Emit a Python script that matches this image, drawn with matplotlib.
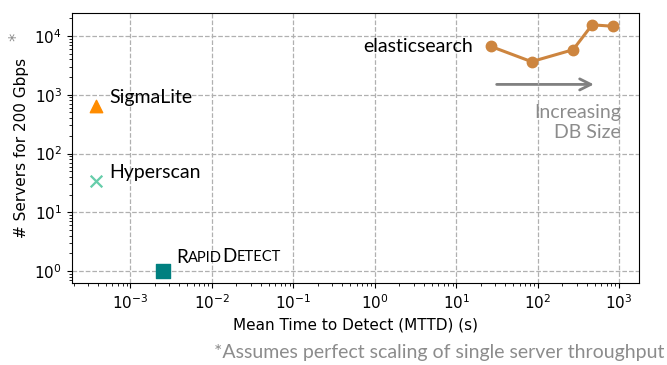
import matplotlib
matplotlib.use('Agg')
import matplotlib.pyplot as plt
from matplotlib.patches import FancyArrowPatch

# ---------- data ----------
es_mttd = [26.7, 84, 272, 466, 843]
es_servers = [6640, 3660, 5840, 15500, 14650]

sigmalite_mttd, sigmalite_servers = 3.8e-4, 650
hyperscan_mttd, hyperscan_servers = 3.8e-4, 34
rapid_mttd, rapid_servers = 2.5e-3, 1

xlim = (1.9e-4, 1.77e3)
ylim = (0.62, 2.45e4)

label_font = ['Lato', 'DejaVu Sans']
gray = '#8c8c8c'

fig = plt.figure(figsize=(6.67, 3.65), dpi=100)
ax = fig.add_axes([0.1075, 0.224, 0.851, 0.74])

ax.plot(es_mttd, es_servers, color='#cd853f', lw=2.2, marker='o', ms=7.5, zorder=3)
ax.scatter([sigmalite_mttd], [sigmalite_servers], marker='^', s=80, color='#ff8c00', zorder=3)
ax.scatter([hyperscan_mttd], [hyperscan_servers], marker='x', s=70, color='#66cdaa', lw=1.6, zorder=3)
ax.scatter([rapid_mttd], [rapid_servers], marker='s', s=90, color='#008080', zorder=3)

ax.set_xscale('log')
ax.set_yscale('log')
ax.set_xlim(*xlim)
ax.set_ylim(*ylim)
ax.grid(True, which='major', ls='--', color='#b0b0b0', lw=0.9)
ax.tick_params(labelsize=11)

ax.set_xlabel('Mean Time to Detect (MTTD) (s)', fontsize=11)
ax.set_ylabel('# Servers for 200 Gbps', fontsize=11, labelpad=4)
fig.text(0.024, 0.90, '*', color=gray, fontsize=12, ha='center', va='center', rotation=90)

# text labels
ax.text(5.5e-4, 650, 'SigmaLite', fontsize=14, family=label_font, va='bottom')
ax.text(5.5e-4, 34, 'Hyperscan', fontsize=14, family=label_font, va='bottom')
ax.text(16.2, 6640, 'elasticsearch', fontsize=14, family=label_font, ha='right', va='center')

# small-caps RapidDetect
prev = ax.text(3.65e-3, 1.2, 'R', fontsize=13.5, family=label_font, va='bottom')
for piece, size in [('APID', 10.5), ('D', 13.5), ('ETECT', 10.5)]:
    prev = ax.annotate(piece, xy=(1, 0.06 if size < 12 else 0), xycoords=prev, fontsize=size,
                       family=label_font, ha='left', va='bottom')

arrow = FancyArrowPatch((29, 1500), (530, 1500), arrowstyle='->', color='gray', lw=2,
                        mutation_scale=20, transform=ax.transData)
ax.add_patch(arrow)
ax.text(1050, 340, 'Increasing\nDB Size', fontsize=14, family=label_font, color=gray,
        ha='right', va='center', linespacing=1.2)

fig.text(0.996, 0.01, '*Assumes perfect scaling of single server throughput', fontsize=14,
         family=label_font, color=gray, ha='right', va='bottom')

fig.savefig('out.png', dpi=100)
